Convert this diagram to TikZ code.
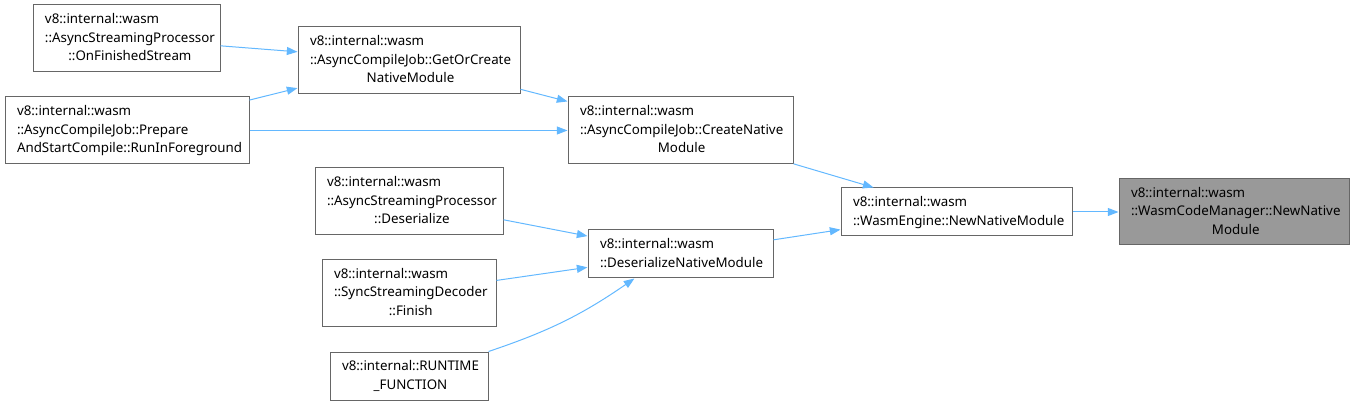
\documentclass[tikz,border=0pt]{standalone}
\usepackage{fontspec}
\setmainfont{Noto Sans}
\usetikzlibrary{arrows.meta, positioning}
\definecolor{EdgeBlue}{HTML}{63B8FF}
\definecolor{BoxGray}{HTML}{666666}
\definecolor{FocusGray}{HTML}{999999}
% lines left aligned, last line centred
\newcommand{\fnlabel}[2]{\noindent\begin{tabular}{@{}l@{}}#1\\\multicolumn{1}{@{}c@{}}{#2}\end{tabular}}
\tikzset{
  fn/.style 2 args={rectangle, draw=BoxGray, fill=white, line width=0.75pt,
    text width={(#1-24)*0.75pt}, inner xsep=9pt, inner ysep=0pt,
    minimum height={#2*0.75pt}, align=left,
    font=\fontsize{10}{14}\selectfont, text=black},
  focus/.style={fill=FocusGray},
  call/.style={draw=EdgeBlue, line width=0.75pt,
    -{Stealth[length=8pt, width=6pt, inset=0pt]}},
}
\begin{document}
\begin{tikzpicture}[x=0.75pt, y=-0.75pt]
  \useasboundingbox (0,0) rectangle (1354,406);
  % callers, far left
  \node[fn={187}{67}] (ofs) at (126.5,38.5)
    {\fnlabel{v8::internal::wasm\\::AsyncStreamingProcessor}{::OnFinishedStream}};
  \node[fn={244}{67}] (rif) at (127,130.5)
    {\fnlabel{v8::internal::wasm\\::AsyncCompileJob::Prepare}{AndStartCompile::RunInForeground}};
  \node[fn={222}{67}] (goc) at (409,60.5)
    {\fnlabel{v8::internal::wasm\\::AsyncCompileJob::GetOrCreate}{NativeModule}};
  \node[fn={188}{67}] (asd) at (409,201.5)
    {\fnlabel{v8::internal::wasm\\::AsyncStreamingProcessor}{::Deserialize}};
  \node[fn={174}{66}] (ssf) at (409,293)
    {\fnlabel{v8::internal::wasm\\::SyncStreamingDecoder}{::Finish}};
  \node[fn={158}{48}] (rtf) at (409,376)
    {\fnlabel{v8::internal::RUNTIME}{\_FUNCTION}};
  % middle column
  \node[fn={225}{67}] (cnm) at (680.5,130.5)
    {\fnlabel{v8::internal::wasm\\::AsyncCompileJob::CreateNative}{Module}};
  \node[fn={185}{48}] (dnm) at (680.5,254)
    {\fnlabel{v8::internal::wasm}{::DeserializeNativeModule}};
  \node[fn={231}{48}] (wen) at (956.5,212)
    {\fnlabel{v8::internal::wasm}{::WasmEngine::NewNativeModule}};
  \node[fn={230}{66}, focus] (wcm) at (1234,212)
    {\fnlabel{v8::internal::wasm\\::WasmCodeManager::NewNative}{Module}};

  \draw[call] (ofs) -- (goc);
  \draw[call] (rif) -- (goc);
  \draw[call] (goc) -- (cnm);
  \draw[call] (rif) -- (cnm);
  \draw[call] (cnm) -- (wen);
  \draw[call] (asd) -- (dnm);
  \draw[call] (ssf) -- (dnm);
  \draw[call] (rtf.north east) to[bend right=8] (dnm.208);
  \draw[call] (dnm) -- (wen);
  \draw[call] (wen) -- (wcm);
\end{tikzpicture}
\end{document}
